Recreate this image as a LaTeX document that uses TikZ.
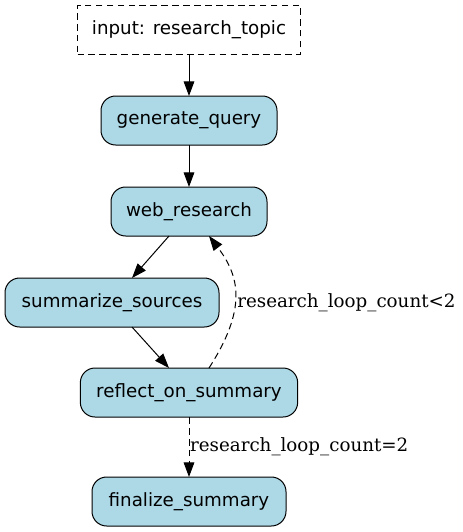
\documentclass[tikz,border=0pt]{standalone}
\usepackage{fontspec}
\newfontfamily\nodefont{DejaVu Sans}
\newfontfamily\labfont{DejaVu Serif}
\usetikzlibrary{arrows.meta,calc}
\definecolor{boxfill}{HTML}{ADD8E6}
\tikzset{
  base/.style={draw=black, line width=0.75pt, inner sep=0pt, outer sep=0pt,
    minimum height=36.75pt, font=\nodefont\fontsize{13.7pt}{16pt}\selectfont, text=black},
  stepbox/.style={base, rectangle, rounded corners=11pt, fill=boxfill},
  inbox/.style={base, rectangle, dash pattern=on 5pt off 3.2pt},
  arr/.style={draw=black, line width=0.75pt, -{Triangle[length=11pt,width=8pt]}},
  darr/.style={arr, dash pattern=on 5pt off 3.2pt},
  lab/.style={font=\labfont\fontsize{13.7pt}{16pt}\selectfont, inner sep=1pt, text=black}
}
\begin{document}
\begin{tikzpicture}[x=0.75pt,y=-0.75pt]
\useasboundingbox (0,0) rectangle (463,532);
\node[inbox, minimum width=167.25pt] (in) at (189,29.5) {input: research\_topic};
\node[stepbox, minimum width=132pt] (gen) at (189,120.5) {generate\_query};
\node[stepbox, minimum width=117pt] (web) at (189,211.5) {web\_research};
\node[stepbox, minimum width=160.5pt] (sum) at (112,302.5) {summarize\_sources};
\node[stepbox, minimum width=163pt] (ref) at (189,392.5) {reflect\_on\_summary};
\node[stepbox, minimum width=145.5pt] (fin) at (189,501.5) {finalize\_summary};
\draw[arr] (in) -- (gen);
\draw[arr] (gen) -- (web);
\draw[arr] ($(web.south)+(-20,0)$) -- ($(sum.north)+(20,0)$);
\draw[arr] ($(sum.south)+(20,0)$) -- ($(ref.north)+(-20,0)$);
\draw[darr] ($(ref.north)+(20,0)$) .. controls (247,309) and (240,276.5) .. ($(web.south)+(20,0)$)
  node[lab, pos=0.5, anchor=west, xshift=0.5pt, yshift=-5.6pt] {research\_loop\_count<2};
\draw[darr] (ref) -- (fin) node[lab, pos=0.5, anchor=west, inner sep=0.5pt] {research\_loop\_count=2};
\end{tikzpicture}
\end{document}
